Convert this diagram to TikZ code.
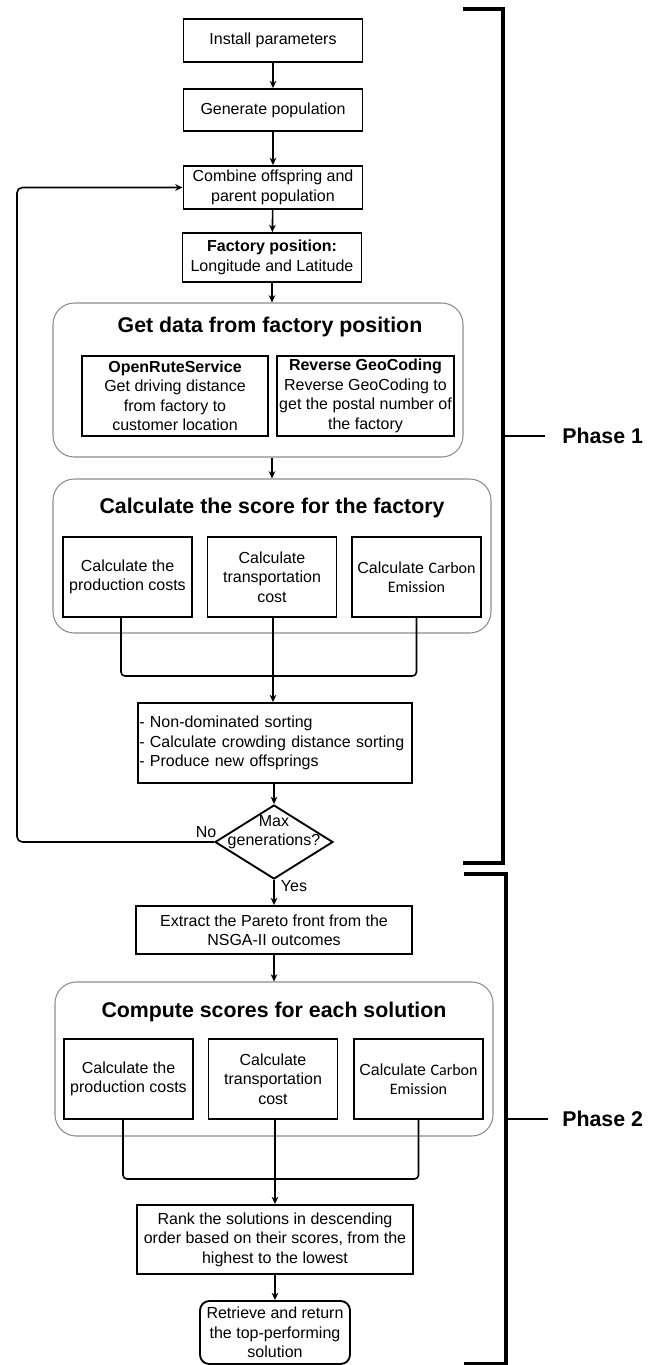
\documentclass[tikz,border=0pt]{standalone}
\usepackage{fontspec}
\setmainfont{Liberation Sans}
\newfontfamily\carlito{Carlito}
\usetikzlibrary{arrows.meta,shapes.geometric,calc}
\begin{document}
\begin{tikzpicture}[x=0.75pt,y=-0.75pt,
  font=\fontsize{12}{14.6}\selectfont,
  sz/.style 2 args={minimum width=#1*0.75pt,minimum height=#2*0.75pt},
  box/.style={draw=black,line width=1.4pt,align=center,inner xsep=0pt,inner ysep=0pt},
  group/.style={draw=black!45,line width=0.8pt,rounded corners=16pt,inner sep=0pt},
  title/.style={font=\fontsize{16}{19}\selectfont\bfseries,inner sep=0pt},
  conn/.style={line width=1.2pt,rounded corners=3pt},
  arr/.style={conn,-{Stealth[length=5.5pt,width=5pt]}},
  brk/.style={line width=2.3pt,line join=miter},
  lbl/.style={inner sep=0pt}]
\useasboundingbox (0,0) rectangle (656,1365);

% groups
\node[group,sz={410}{154}] (g1) at (258,380) {};
\node[group,sz={438}{154}] (g2) at (272,556) {};
\node[group,sz={438}{154}] (g3) at (274,1059) {};
\node[title] (t1) at (270,327) {Get data from factory position};
\node[title] (t2) at (272,508) {Calculate the score for the factory};
\node[title] (t3) at (274,1012) {Compute scores for each solution};

% main column
\node[box,sz={179}{43}] (install) at (273,40.5) {Install parameters};
\node[box,sz={179}{42}] (gen) at (273,110) {Generate population};
\node[box,sz={179}{43}] (comb) at (273,187.5) {Combine offspring and\\parent population};
\node[box,sz={179}{49}] (fac) at (272,257.5) {\textbf{Factory position:}\\Longitude and Latitude};

\node[box,sz={186}{80}] (ors) at (175,396) {\textbf{OpenRuteService}\\Get driving distance\\from factory to\\customer location};
\node[box,sz={177}{80}] (rgc) at (365.5,396) {\textbf{Reverse GeoCoding}\\Reverse GeoCoding to\\get the postal number of\\the factory};

\node[box,sz={129}{80}] (b1) at (127.5,577) {Calculate the\\production costs};
\node[box,sz={129}{80}] (b2) at (272,577) {Calculate\\transportation\\cost};
\node[box,sz={129}{80}] (b3) at (416.5,577) {Calculate {\carlito Carbon}\\{\carlito Emission}};

\node[box,sz={273}{80},align=left,anchor=west,text width=271*0.75pt,inner xsep=1pt] (sort) at (137,743) {- Non-dominated sorting\\- Calculate crowding distance sorting\\- Produce new offsprings};

\node[draw=black,line width=1.4pt,diamond,sz={118}{74},inner sep=0pt] (dia) at (274,842) {};
\node[lbl,align=center] (diat) at (274,832) {Max\\generations?};
\node[lbl] (no) at (206,832) {No};
\node[lbl] (yes) at (294,886) {Yes};

\node[box,sz={276}{48}] (ext) at (274,930) {Extract the Pareto front from the\\NSGA-II outcomes};

\node[box,sz={129}{80}] (c1) at (128.5,1079) {Calculate the\\production costs};
\node[box,sz={129}{80}] (c2) at (273,1079) {Calculate\\transportation\\cost};
\node[box,sz={129}{80}] (c3) at (418.5,1079) {Calculate {\carlito Carbon}\\{\carlito Emission}};

\node[box,sz={276}{69}] (rank) at (275,1239.5) {Rank the solutions in descending\\order based on their scores, from the\\highest to the lowest};
\node[box,sz={150}{63},rounded corners=7pt] (final) at (275,1332.5) {Retrieve and return\\the top-performing\\solution};

% connectors
\draw[arr] (install) -- (gen);
\draw[arr] (gen) -- (comb);
\draw[arr] (comb) -- (fac);
\draw[arr] (fac.south) -- (fac.south |- g1.north);
\draw[arr] (fac.south |- g1.south) -- (fac.south |- g2.north);

\coordinate (m1) at (273,676);
\draw[conn] ($(b1.south)+(-6.5,0)$) |- (m1) -| (b3.south);
\draw[arr] (m1 |- b2.south) -- (m1 |- sort.north);
\draw[arr] (dia.north |- sort.south) -- (dia.north);

\coordinate (lp) at (17,842);
\draw[arr,rounded corners=4pt] (dia.west) -- (lp) |- (comb.west);
\draw[arr] (dia.south) -- (ext.north);
\draw[arr] (ext.south) -- (ext.south |- g3.north);

\coordinate (m2) at (275,1179);
\draw[conn] ($(c1.south)+(-5.5,0)$) |- (m2) -| (c3.south);
\draw[arr] (m2 |- c2.south) -- (m2 |- rank.north);
\draw[arr] (rank) -- (final);

% phase brackets
\draw[brk] (463,9) -- (503,9) -- (503,863) -- (463,863);
\draw[brk] (464,874) -- (506,874) -- (506,1363.5) -- (464,1363.5);
\node[title,anchor=west] (p1) at (562,436) {Phase 1};
\node[title,anchor=west] (p2) at (562,1119) {Phase 2};
\draw[line width=1.6pt] (503,436) -- (545,436);
\draw[line width=1.6pt] (506,1119) -- (548,1119);
\end{tikzpicture}
\end{document}
